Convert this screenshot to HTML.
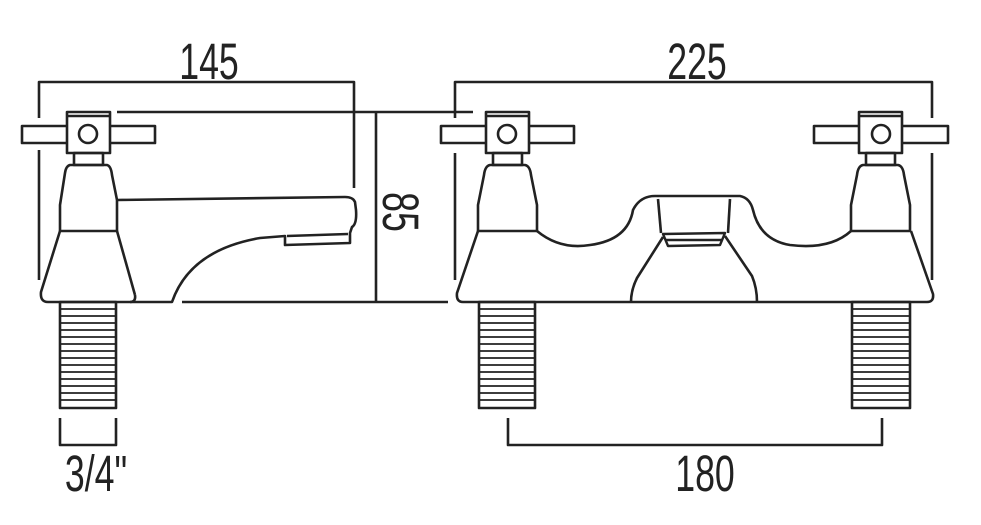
<!DOCTYPE html>
<html><head><meta charset="utf-8"><style>
html,body{margin:0;padding:0;background:#fff;}
svg{display:block;}
text{font-family:"Liberation Sans",sans-serif;fill:#222;font-size:51px;}
</style></head><body>
<svg width="981" height="525" viewBox="0 0 981 525" xmlns="http://www.w3.org/2000/svg">
<g fill="none" stroke="#222" stroke-width="2.6" stroke-linejoin="round">
<!-- dimension lines -->
<polyline points="39,118 39,82 354,82 354,188"/>
<line x1="39" y1="150" x2="39" y2="280"/>
<polyline points="455,118 455,82 932,82 932,118"/>
<line x1="455" y1="153" x2="455" y2="280"/>
<line x1="932" y1="153" x2="932" y2="280"/>
<line x1="117" y1="112" x2="473" y2="112"/>
<line x1="376" y1="112" x2="376" y2="302"/>
<line x1="182" y1="302" x2="448" y2="302"/>
<polyline points="60,418 60,445 116,445 116,418"/>
<polyline points="508,418 508,445 882,445 882,418"/>

<!-- LEFT TAP -->
<rect x="22" y="126" width="133" height="17" fill="#fff"/>
<rect x="67" y="112" width="43" height="41" fill="#fff"/>
<line x1="67" y1="116" x2="110" y2="116"/>
<circle cx="88" cy="134" r="9"/>
<rect x="74" y="153" width="29" height="12"/>
<path d="M70,165 L107,165 Q111,166 112,175 L117,200 L117,231 L60,231 L60,205 L65,173 Q66,166 70,165 Z"/>
<path d="M60,231 L41,292 Q40,302 48,302 L172,302 Q190,250 260,238 L285,236 L285,245 L350,243 L350,233 L352,227 Q357,224 356,210 L355,202 Q353,197 345,197 L117,200"/>
<line x1="117" y1="231" x2="135" y2="295"/>
<path d="M135,295 Q136,302 130,302"/>
<line x1="287" y1="236" x2="348" y2="234"/>
<!-- thread left -->
<rect x="60" y="302" width="56" height="106"/>

<!-- RIGHT TAP -->
<rect x="441" y="126" width="133" height="17" fill="#fff"/>
<rect x="486" y="112" width="43" height="41" fill="#fff"/>
<line x1="486" y1="116" x2="529" y2="116"/>
<circle cx="507" cy="134" r="9"/>
<rect x="493" y="153" width="29" height="12"/>
<rect x="814" y="126" width="134" height="17" fill="#fff"/>
<rect x="859" y="112" width="43" height="41" fill="#fff"/>
<line x1="859" y1="116" x2="902" y2="116"/>
<circle cx="881" cy="134" r="9"/>
<rect x="866" y="153" width="29" height="12"/>
<path d="M490,165 L525,165 Q530,166 531,175 L537,205 L537,231 L478,231 L478,205 L484,175 Q485,166 490,165 Z"/>
<path d="M863,165 L898,165 Q903,166 904,175 L910,205 L910,231 L851,231 L851,205 L857,175 Q858,166 863,165 Z"/>
<path d="M478,231 L457,293 Q456,302 463,302 L927,302 Q934,302 933,294 L911,231"/>
<path d="M537,231 Q560,250 590,245 Q628,240 633,210 Q640,196 655,196 L740,196 Q750,198 753,210 Q760,240 790,245 Q830,250 851,231"/>
<line x1="658" y1="199" x2="661" y2="233"/>
<line x1="730" y1="199" x2="728" y2="233"/>
<path d="M663,234 L725,233 L720,245 L668,246 Z" stroke-width="2.4"/>
<line x1="666" y1="240" x2="722" y2="240"/>
<path d="M663,237 L637,278 Q631,290 631,302"/>
<path d="M725,236 L752,276 Q757,288 757,302"/>
<rect x="479" y="302" width="56" height="106"/>
<rect x="852" y="302" width="58" height="106"/>
</g>
<g stroke="#222" stroke-width="1.8">
<path d="M60,309H116M60,316H116M60,323H116M60,330H116M60,337H116M60,344H116M60,351H116M60,358H116M60,365H116M60,372H116M60,379H116M60,386H116M60,393H116M60,400H116"/>
<path d="M479,309H535M479,316H535M479,323H535M479,330H535M479,337H535M479,344H535M479,351H535M479,358H535M479,365H535M479,372H535M479,379H535M479,386H535M479,393H535M479,400H535"/>
<path d="M852,309H910M852,316H910M852,323H910M852,330H910M852,337H910M852,344H910M852,351H910M852,358H910M852,365H910M852,372H910M852,379H910M852,386H910M852,393H910M852,400H910"/>
</g>
<text transform="translate(209,79) scale(0.7,1)" text-anchor="middle">145</text>
<text transform="translate(697,79) scale(0.7,1)" text-anchor="middle">225</text>
<text transform="translate(705,491) scale(0.7,1)" text-anchor="middle">180</text>
<text transform="translate(96,491) scale(0.7,1)" text-anchor="middle">3/4"</text>
<text transform="translate(383,212) rotate(90) scale(0.7,1)" text-anchor="middle">85</text>
</svg>
</body></html>
